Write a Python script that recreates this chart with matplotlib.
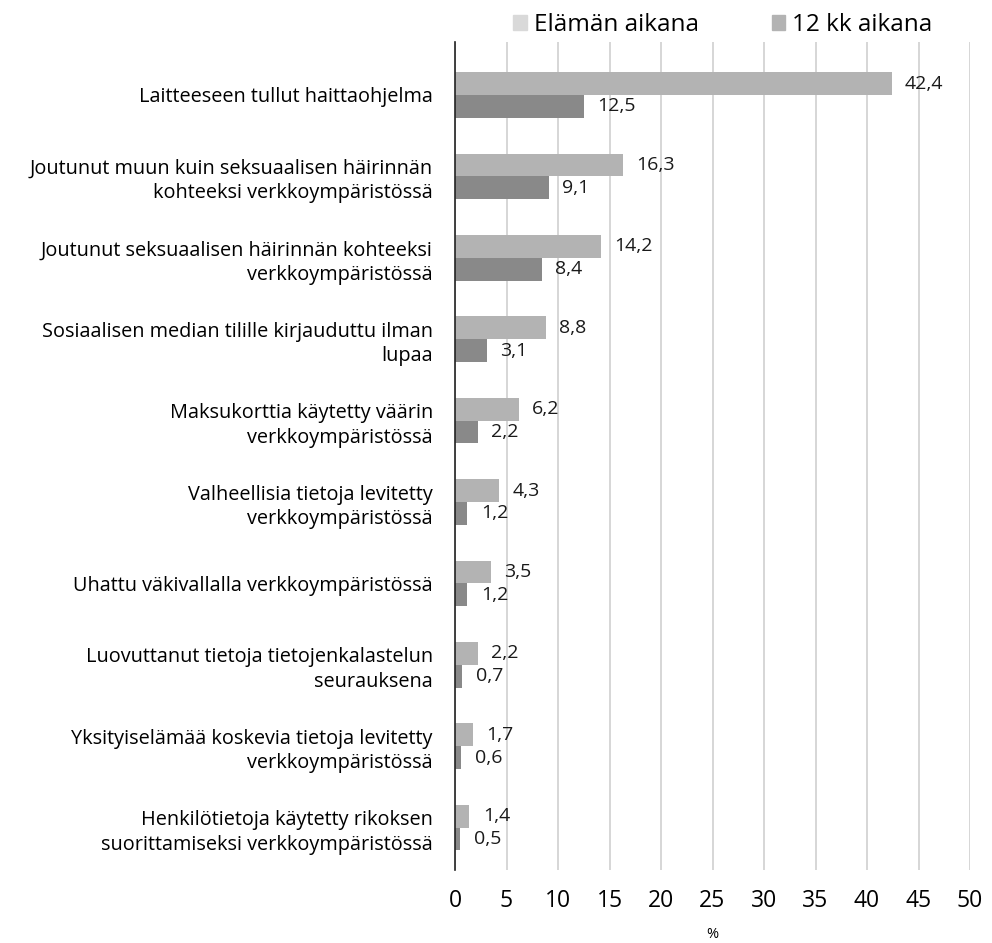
import matplotlib
matplotlib.use("Agg")
import matplotlib.pyplot as plt
import numpy as np

plt.rcParams['font.family'] = ['Open Sans', 'DejaVu Sans']

categories = [
    "Laitteeseen tullut haittaohjelma",
    "Joutunut muun kuin seksuaalisen häirinnän\nkohteeksi verkkoympäristössä",
    "Joutunut seksuaalisen häirinnän kohteeksi\nverkkoympäristössä",
    "Sosiaalisen median tilille kirjauduttu ilman\nlupaa",
    "Maksukorttia käytetty väärin\nverkkoympäristössä",
    "Valheellisia tietoja levitetty\nverkkoympäristössä",
    "Uhattu väkivallalla verkkoympäristössä",
    "Luovuttanut tietoja tietojenkalastelun\nseurauksena",
    "Yksityiselämää koskevia tietoja levitetty\nverkkoympäristössä",
    "Henkilötietoja käytetty rikoksen\nsuorittamiseksi verkkoympäristössä",
]
lifetime = [42.4, 16.3, 14.2, 8.8, 6.2, 4.3, 3.5, 2.2, 1.7, 1.4]
months12 = [12.5, 9.1, 8.4, 3.1, 2.2, 1.2, 1.2, 0.7, 0.6, 0.5]
series_names = ["Elämän aikana", "12 kk aikana"]
xticks = [0, 5, 10, 15, 20, 25, 30, 35, 40, 45, 50]

def fmt(v):
    return f"{v:.1f}".replace(".", ",")

W, H = 992, 943
fig = plt.figure(figsize=(W/100, H/100), dpi=100)
ax = fig.add_axes([455/W, 1-870/H, (970-455)/W, (870-42)/H])

y = np.arange(len(categories))
h = 0.28
ax.barh(y - h/2, lifetime, height=h, color="#b3b3b3", zorder=3)
ax.barh(y + h/2, months12, height=h, color="#898989", zorder=3)

for yi, v in zip(y, lifetime):
    ax.text(v + 1.3, yi - h/2, fmt(v), va="center", ha="left", fontsize=14, color="#1a1a1a")
for yi, v in zip(y, months12):
    ax.text(v + 1.3, yi + h/2, fmt(v), va="center", ha="left", fontsize=14, color="#1a1a1a")

ax.set_xlim(0, 50)
ax.set_ylim(9.52, -0.65)
ax.set_xticks(xticks)
ax.set_xticklabels([str(t) for t in xticks], fontsize=16.5)
ax.set_yticks(y)
ax.set_yticklabels(categories, fontsize=14.3, linespacing=1.3)
ax.tick_params(axis="both", length=0)
ax.tick_params(axis="x", pad=14)
ax.tick_params(axis="y", pad=16)
ax.xaxis.grid(True, color="#d0d0d0", linewidth=1.2, zorder=0)
for s in ["top", "right", "bottom"]:
    ax.spines[s].set_visible(False)
ax.spines["left"].set_color("#222222")
ax.spines["left"].set_linewidth(1.2)
ax.spines["left"].set_zorder(4)
ax.set_xlabel("%", fontsize=10.5, labelpad=10)

from matplotlib.patches import Patch
handles = [Patch(color="#d9d9d9"), Patch(color="#b3b3b3")]
fig.legend(handles, series_names, loc="center", bbox_to_anchor=(723/W, 1-25/H), ncol=2,
           frameon=False, fontsize=17.5, handlelength=0.55, handleheight=0.55,
           handletextpad=0.3, columnspacing=3.0)

fig.savefig("out.png", dpi=100)
